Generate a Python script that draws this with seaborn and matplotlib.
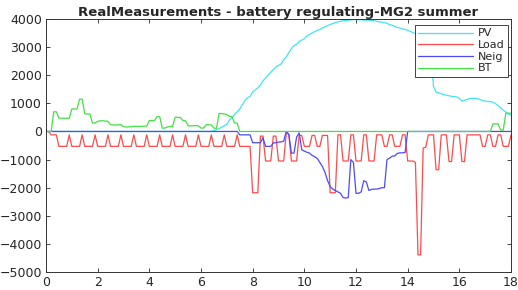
"""RealMeasurements - battery regulating-MG2 summer (power flows over a day)."""
import numpy as np
import pandas as pd
import matplotlib
matplotlib.use("Agg")
import matplotlib.pyplot as plt
import seaborn as sns

# ── data: one value every 0.1 h, rows = one hour (h.0 … h.9), last value = 18.0 h ──
hours = np.round(np.arange(0, 18.01, 0.1), 1)

pv = [
    0, 0, 0, 0, 0, 0, 0, 0, 0, 0,
    0, 0, 0, 0, 0, 0, 0, 0, 0, 0,
    0, 0, 0, 0, 0, 0, 0, 0, 0, 0,
    0, 0, 0, 0, 0, 0, 0, 0, 0, 0,
    0, 0, 0, 0, 0, 0, 0, 0, 0, 0,
    0, 0, 0, 0, 0, 0, 0, 0, 0, 0,
    0, 0, 0, 0, 0, 30, 60, 100, 150, 200,
    260, 400, 500, 600, 700, 800, 950, 1100, 1200, 1250,
    1400, 1480, 1550, 1650, 1800, 1900, 2000, 2100, 2200, 2300,
    2350, 2400, 2550, 2650, 2800, 2950, 3050, 3100, 3200, 3250,
    3300, 3400, 3450, 3500, 3550, 3600, 3630, 3680, 3720, 3770,
    3800, 3840, 3870, 3900, 3920, 3940, 3950, 3960, 3970, 3980,
    3980, 3975, 3970, 3965, 3960, 3955, 3950, 3940, 3920, 3900,
    3890, 3870, 3850, 3800, 3780, 3740, 3700, 3680, 3650, 3630,
    3600, 3560, 3520, 3480, 3400, 3300, 3200, 3100, 3000, 2800,
    1600, 1400, 1380, 1340, 1310, 1290, 1270, 1250, 1240, 1230,
    1180, 1080, 1110, 1140, 1170, 1180, 1180, 1170, 1130, 1100,
    1080, 1070, 1060, 1040, 990, 920, 840, 760, 690, 620,
    580,
]

load = [
    0, 0, -120, -120, -120, -530, -530, -530, -530, -120,
    -530, -530, -530, -530, -120, -530, -530, -530, -530, -120,
    -530, -530, -530, -530, -120, -530, -530, -530, -530, -120,
    -530, -530, -530, -530, -120, -530, -530, -530, -530, -120,
    -530, -530, -530, -530, -120, -530, -530, -530, -530, -120,
    -530, -530, -530, -530, -120, -530, -530, -530, -530, -120,
    -530, -530, -530, -530, -120, -530, -530, -530, -530, -120,
    -530, -530, -530, -530, -120, -530, -530, -530, -530, -530,
    -2180, -2180, -2180, -165, -165, -1050, -1050, -1050, -165, -165,
    -1050, -1050, -1050, -60, -100, -1050, -1050, -1050, -140, -140,
    -530, -530, -530, -140, -140, -530, -530, -140, -140, -140,
    -2180, -2180, -2180, -120, -120, -1050, -1050, -1050, -120, -120,
    -1050, -1050, -1050, -120, -120, -1050, -1050, -1050, -120, -120,
    -120, -530, -530, -120, -120, -530, -530, -530, -120, -120,
    -1050, -1050, -1050, -1100, -4390, -4390, -590, -560, -120, -120,
    -120, -1360, -1360, -120, -120, -120, -1070, -1070, -120, -120,
    -120, -1070, -1070, -120, -120, -120, -120, -120, -120, -530,
    -530, -120, -120, -530, -530, -120, -120, -530, -530, -530,
    -120,
]

neig = [
    0, 0, 0, 0, 0, 0, 0, 0, 0, 0,
    0, 0, 0, 0, 0, 0, 0, 0, 0, 0,
    0, 0, 0, 0, 0, 0, 0, 0, 0, 0,
    0, 0, 0, 0, 0, 0, 0, 0, 0, 0,
    0, 0, 0, 0, 0, 0, 0, 0, 0, 0,
    0, 0, 0, 0, 0, 0, 0, 0, 0, 0,
    0, 0, 0, 0, 0, 0, 0, 0, 0, 0,
    0, 0, 0, 0, 0, -120, -120, -120, -120, -120,
    -400, -400, -400, -400, -230, -530, -530, -530, -410, -400,
    -380, -370, -350, 0, -100, -770, -770, -200, -50, -650,
    -700, -740, -770, -850, -900, -960, -1100, -1250, -1450, -1750,
    -1960, -2050, -2100, -2150, -2200, -2350, -2370, -2350, -1000, -1100,
    -2200, -2200, -2150, -1750, -1800, -2100, -2060, -2050, -2050, -2030,
    -2000, -2000, -1000, -950, -880, -870, -780, -760, -760, -750,
    0, 0, 0, 0, 0, 0, 0, 0, 0, 0,
    0, 0, 0, 0, 0, 0, 0, 0, 0, 0,
    0, 0, 0, 0, 0, 0, 0, 0, 0, 0,
    0, 0, 0, 0, 0, 0, 0, 0, 0, 0,
    0,
]

bt = [
    0, 0, 0, 700, 700, 480, 470, 470, 470, 470,
    800, 800, 800, 1150, 1150, 630, 620, 620, 300, 300,
    360, 380, 380, 370, 360, 240, 230, 230, 240, 240,
    170, 160, 160, 170, 180, 180, 180, 180, 190, 190,
    390, 390, 390, 530, 530, 120, 120, 160, 180, 180,
    510, 500, 500, 390, 380, 200, 200, 200, 210, 200,
    120, 120, 240, 240, 230, 120, 110, 640, 640, 620,
    600, 540, 530, 300, 300, 0, 0, 0, 0, 0,
    0, 0, 0, 0, 0, 0, 0, 0, 0, 0,
    0, 0, 0, 0, 0, 0, 0, 0, 0, 0,
    0, 0, 0, 0, 0, 0, 0, 0, 0, 0,
    0, 0, 0, 0, 0, 0, 0, 0, 0, 0,
    0, 0, 0, 0, 0, 0, 0, 0, 0, 0,
    0, 0, 0, 0, 0, 0, 0, 0, 0, 0,
    0, 0, 0, 0, 0, 0, 0, 0, 0, 0,
    0, 0, 0, 0, 0, 0, 0, 0, 0, 0,
    0, 0, 0, 0, 0, 0, 0, 0, 0, 0,
    0, 0, 0, 270, 270, 270, 50, 50, 650, 650,
    650,
]

series = ["PV", "Load", "Neig", "BT"]
colors = {"PV": "#3fe6f0", "Load": "#ff4a4a", "Neig": "#4a4aff", "BT": "#44e044"}

df = pd.concat([
    pd.DataFrame({"t": hours, "P": vals, "series": name})
    for name, vals in zip(series, [pv, load, neig, bt])
], ignore_index=True)

# ── plot ────────────────────────────────────────────────────────────────────
sns.set_theme(style="ticks")
plt.rcParams["font.family"] = ["DejaVu Sans"]

fig = plt.figure(figsize=(5.18, 2.9), dpi=100)
ax = fig.add_axes([0.0888, 0.062, 0.8977, 0.8724])

sns.lineplot(data=df, x="t", y="P", hue="series", hue_order=series,
             palette=colors, linewidth=0.9, sort=False, ax=ax)

ax.set_xlim(0, 18)
ax.set_ylim(-5000, 4000)
ax.set_xticks(np.arange(0, 19, 2))
ax.set_yticks(np.arange(-5000, 4001, 1000))
ax.set_xlabel("")
ax.set_ylabel("")
ax.tick_params(direction="in", length=3, width=0.6, top=True, right=True,
               labelsize=9, colors="#262626", pad=3)
for sp in ax.spines.values():
    sp.set_visible(True)
    sp.set_linewidth(0.7)
    sp.set_color("#333333")

ax.set_title("RealMeasurements - battery regulating-MG2 summer",
             fontsize=9.5, fontweight="bold", pad=2.5)

leg = ax.legend(loc="upper right", bbox_to_anchor=(0.9935, 0.976), borderaxespad=0,
                fontsize=8, handlelength=5.0, handletextpad=0.4, labelspacing=0.15,
                borderpad=0.3, frameon=True, fancybox=False, framealpha=1)
leg.get_frame().set_edgecolor("#222222")
leg.get_frame().set_linewidth(0.6)

fig.savefig("out.png", dpi=100)
print("saved out.png")
